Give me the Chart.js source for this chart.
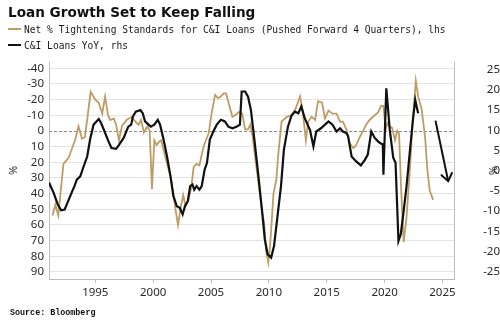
<!DOCTYPE html>
<html>
<head>
<meta charset="utf-8">
<script src="https://cdn.jsdelivr.net/npm/chart.js@4"></script>
<style>
body{margin:0;background:#fff}
#wrap{position:relative;width:500px;height:325px;overflow:hidden}
#chart{position:absolute;left:0;top:0}
.title{position:absolute;left:8px;top:4px;font:bold 13.6px/16px "DejaVu Sans";color:#111;white-space:nowrap}
.leg{position:absolute;left:8px;font:9.6px/12px "DejaVu Sans Mono";color:#1a1a1a;white-space:nowrap}
.leg i{display:inline-block;width:13px;height:2px;margin-right:3px;vertical-align:3px}
.src{position:absolute;left:10px;top:308px;font:bold 8.4px/10px "Liberation Mono";color:#111;white-space:nowrap}
</style>
</head>
<body>
<div id="wrap">
  <canvas id="chart" width="500" height="325"></canvas>
  <div class="title">Loan Growth Set to Keep Falling</div>
  <div class="leg" style="top:24px"><i style="background:#bd9d66"></i>Net % Tightening Standards for C&amp;I Loans (Pushed Forward 4 Quarters), lhs</div>
  <div class="leg" style="top:40px"><i style="background:#111"></i>C&amp;I Loans YoY, rhs</div>
  <div class="src">Source: Bloomberg</div>
</div>
<script>
// net % of banks tightening C&I standards, shifted forward 4 quarters (lhs, inverted)
const tightYears = [1991.3,1991.55,1991.8,1992.25,1992.7,1992.95,1993.25,1993.55,1993.85,1994.1,1994.3,1994.6,
  1995.0,1995.3,1995.6,1995.85,1996.1,1996.3,1996.6,1996.8,1997.05,1997.3,1997.7,1998.15,1998.45,1998.75,1998.95,
  1999.2,1999.5,1999.7,1999.9,2000.1,2000.3,2000.5,2000.7,2000.9,2001.2,2001.5,2001.75,2001.95,2002.15,2002.4,
  2002.6,2002.8,2003.05,2003.3,2003.5,2003.75,2004.0,2004.2,2004.4,2004.8,2005.05,2005.35,2005.6,2005.85,2006.1,
  2006.3,2006.55,2006.85,2007.1,2007.4,2007.7,2007.95,2008.2,2008.4,2008.6,2008.8,2009.1,2009.4,2009.6,2009.75,
  2009.95,2010.1,2010.4,2010.65,2010.8,2011.1,2011.55,2011.95,2012.3,2012.7,2012.9,2013.2,2013.4,2013.7,2014.0,
  2014.25,2014.6,2014.85,2015.15,2015.5,2015.85,2016.15,2016.4,2016.7,2017.0,2017.3,2017.55,2017.85,2018.15,
  2018.4,2018.7,2019.15,2019.45,2019.7,2019.9,2020.1,2020.25,2020.45,2020.65,2020.9,2021.1,2021.25,2021.45,
  2021.65,2021.9,2022.2,2022.4,2022.7,2022.9,2023.2,2023.5,2023.7,2023.9,2024.2];
const tightValues = [54,47,54,21,17,12,6,-3,5,4,-7,-25,
  -20,-18,-11,-22,-10,-7,-8,-4,6,-3,-7,-9,-6,-4,-7,
  1,-3,0,37,6,9,7,6,12,21,29,40,51,60,48,
  41,48,44,36,23,21,22,15,9,1.5,-11,-23,-21,-22,-24,
  -24,-17,-9,-10,-12,-11,-1,-1,-4,4,16,33,51,59,76,
  84,74,40,31,16,-6,-9,-10,-14,-22,-14,6,-6,-9,-7,
  -19,-18,-8,-13,-11,-11,-6,-6,-1,8,11,9,4,0,
  -4,-7,-10,-12,-16,-16,-1,-5,-3,-2,6,0,1.5,40,
  71,55,23,-3,-32,-22,-14,4,25,38,44];

// C&I loans, year over year % (rhs)
const loanYears = [1991.0,1991.4,1991.75,1992.05,1992.35,1992.6,1992.95,1993.2,1993.4,1993.7,1994.0,1994.3,
  1994.55,1994.85,1995.3,1995.5,1995.8,1996.15,1996.4,1996.8,1997.05,1997.45,1997.85,1998.1,1998.25,1998.5,
  1998.9,1999.1,1999.3,1999.6,1999.8,2000.1,2000.4,2000.6,2000.9,2001.2,2001.5,2001.75,2002.05,2002.3,2002.55,
  2002.75,2003.0,2003.2,2003.4,2003.55,2003.75,2004.0,2004.2,2004.45,2004.65,2004.9,2005.2,2005.5,2005.85,
  2006.2,2006.5,2006.85,2007.2,2007.5,2007.65,2007.95,2008.2,2008.45,2008.75,2009.1,2009.4,2009.65,2009.9,
  2010.2,2010.45,2010.75,2011.05,2011.3,2011.65,2011.95,2012.25,2012.55,2012.8,2013.1,2013.55,2013.85,2014.1,
  2014.5,2014.85,2015.15,2015.5,2015.85,2016.15,2016.4,2016.7,2016.85,2017.15,2017.55,2017.95,2018.3,2018.55,
  2018.85,2019.15,2019.45,2019.65,2019.85,2019.9,2020.15,2020.45,2020.75,2020.95,2021.2,2021.4,2021.6,2021.9,
  2022.2,2022.45,2022.65,2022.9];
const loanValues = [-2.9,-5.5,-8.3,-9.8,-9.6,-7.9,-5.5,-3.8,-2.2,-1.4,1.1,3.5,
  7.7,11.4,12.8,11.8,9.7,7.2,5.6,5.4,6.4,8.1,10.9,11.4,13.4,14.6,
  15,14.2,12.2,11.4,10.9,11.4,12.6,11.4,7.7,3.5,-1.4,-6.3,-8.8,-9.2,-10.8,
  -8.8,-7.5,-3.8,-3.4,-4.7,-3.8,-4.7,-3.8,0.3,1.9,7.7,9.7,11.4,12.6,
  12.2,10.9,10.5,10.9,11.4,19.6,19.6,18.3,15,7.7,-1.4,-9.6,-17,-20.7,
  -21.5,-18.6,-11.2,-3.8,5.2,10.9,13.6,14.6,14.2,15.9,13,10.1,6,9.7,
  10.5,11.4,12.2,11.4,9.7,10.5,9.7,9.3,8.5,3.5,2.3,1.3,2.7,4,
  9.7,8.1,7.2,6.8,6.5,-1,20.4,10.1,3.2,1.9,-17.4,-15.7,-11.2,-3.8,
  5.2,12.6,17.5,14.2];

// projected direction for loan growth (rhs)
const arrowYears = [2024.4, 2025.5];
const arrowValues = [12.4, -2.6];

const xTicks = [1995, 2000, 2005, 2010, 2015, 2020, 2025];
const lhsTicks = [-40, -30, -20, -10, 0, 10, 20, 30, 40, 50, 60, 70, 80, 90];
const rhsTicks = [-25, -20, -15, -10, -5, 0, 5, 10, 15, 20, 25];

const pairs = (xs, ys) => xs.map((x, i) => ({x: x, y: ys[i]}));
const setTicks = list => scale => { scale.ticks = list.map(v => ({value: v})); };
const tickFont = {family: 'Noto Sans', size: 11.5};

// dashed line at lhs zero
const zeroLine = {
  id: 'zeroLine',
  beforeDatasetsDraw(chart){
    const {ctx, chartArea} = chart;
    const y = Math.round(chart.scales.y.getPixelForValue(0)) + 0.5;
    ctx.save();
    ctx.strokeStyle = '#8a8a8a'; ctx.lineWidth = 1; ctx.setLineDash([3, 2]);
    ctx.beginPath(); ctx.moveTo(chartArea.left, y); ctx.lineTo(chartArea.right, y); ctx.stroke();
    ctx.restore();
  }
};

// open arrow head at the end of the projection line
const arrowHead = {
  id: 'arrowHead',
  afterDatasetsDraw(chart){
    const pts = chart.getDatasetMeta(2).data;
    if (pts.length < 2) return;
    const a = pts[0], b = pts[1];
    const ang = Math.atan2(b.y - a.y, b.x - a.x);
    const len = 9, spread = Math.PI / 5;
    const ctx = chart.ctx;
    ctx.save();
    ctx.strokeStyle = '#111'; ctx.lineWidth = 2; ctx.lineCap = 'round';
    ctx.beginPath();
    ctx.moveTo(b.x - len * Math.cos(ang - spread), b.y - len * Math.sin(ang - spread));
    ctx.lineTo(b.x, b.y);
    ctx.lineTo(b.x - len * Math.cos(ang + spread), b.y - len * Math.sin(ang + spread));
    ctx.stroke();
    ctx.restore();
  }
};

new Chart(document.getElementById('chart'), {
  type: 'line',
  data: {
    datasets: [
      {label: 'C&I Loans YoY, rhs', data: pairs(loanYears, loanValues), yAxisID: 'y1',
       borderColor: '#111', borderWidth: 2.2, pointRadius: 0, tension: 0, order: 0},
      {label: 'Net % Tightening Standards for C&I Loans (Pushed Forward 4 Quarters), lhs',
       data: pairs(tightYears, tightValues), yAxisID: 'y',
       borderColor: '#bd9d66', borderWidth: 1.8, pointRadius: 0, tension: 0, order: 1},
      {label: 'projection', data: pairs(arrowYears, arrowValues), yAxisID: 'y1',
       borderColor: '#111', borderWidth: 2, pointRadius: 0, order: 0}
    ]
  },
  options: {
    responsive: false,
    animation: false,
    layout: {padding: {top: 62, left: 0, right: 0, bottom: 0}},
    plugins: {legend: {display: false}, tooltip: {enabled: false}},
    scales: {
      x: {
        type: 'linear', min: 1991, max: 2026,
        afterBuildTicks: setTicks(xTicks),
        afterFit: s => { s.height = 46; },
        grid: {drawOnChartArea: false, tickLength: 4, color: '#bdbdbd'},
        border: {color: '#bdbdbd'},
        ticks: {padding: 3, maxRotation: 0, autoSkip: false, font: tickFont, color: '#2a2a2a',
                callback: v => String(v)}
      },
      y: {
        position: 'left', reverse: true, min: -44, max: 94.5,
        afterBuildTicks: setTicks(lhsTicks),
        afterFit: s => { s.width = 49; },
        grid: {drawTicks: false, color: c => (c.tick && c.tick.value === 0) ? 'rgba(0,0,0,0)' : '#e4e4e4'},
        border: {color: '#bdbdbd'},
        ticks: {padding: 5, autoSkip: false, font: tickFont, color: '#2a2a2a', callback: v => String(v)},
        title: {display: true, text: '%', font: {family: 'Noto Sans', size: 11}, color: '#333',
                padding: {top: 7, bottom: 0}}
      },
      y1: {
        position: 'right', min: -26.8, max: 26.9,
        afterBuildTicks: setTicks(rhsTicks),
        afterFit: s => { s.width = 46; },
        grid: {drawOnChartArea: false, drawTicks: false},
        border: {color: '#bdbdbd'},
        ticks: {padding: 5, autoSkip: false, crossAlign: 'far', font: tickFont, color: '#2a2a2a',
                callback: v => String(v)},
        title: {display: true, text: '%', font: {family: 'Noto Sans', size: 11}, color: '#333',
                padding: {top: 1, bottom: 0}}
      }
    }
  },
  plugins: [zeroLine, arrowHead]
});
</script>
</body>
</html>
